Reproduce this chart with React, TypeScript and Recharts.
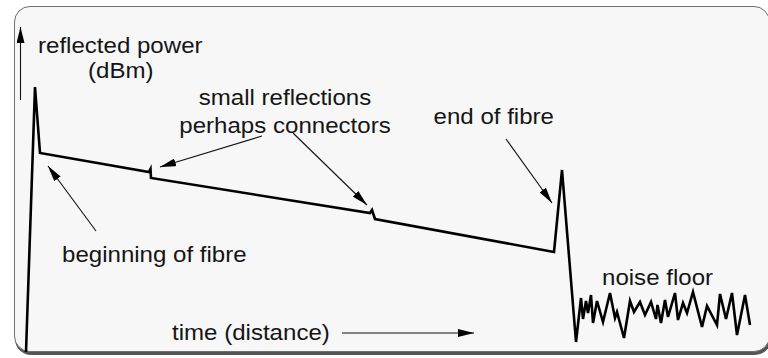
import { Line, LineChart, ReferenceLine, XAxis, YAxis } from "recharts";

// OTDR trace: time (distance) along x, relative reflected power along y
const times = [
  0, 9, 14, 123, 124.5, 125, 344, 346, 349, 528, 536, 550,
  555, 557, 560, 562, 565, 567, 571, 577, 584, 589, 591, 598, 604, 608, 614, 619,
  625, 630, 631.5, 635, 639, 642, 649, 652, 657, 661, 667, 676, 681, 691, 694, 700,
  706, 711, 719, 724,
];
const powers = [
  0, 265, 199, 180, 183, 174, 139, 142, 133, 100, 182, 10,
  54, 33, 51, 39, 57, 29, 51, 30, 59, 34, 40, 14, 51, 40, 50, 37,
  50, 33, 47, 29, 52, 35, 59, 32, 49, 39, 60, 25, 46, 27, 58, 33,
  59, 17, 57, 27,
];

const trace = times.map((t, i) => ({ t, p: powers[i] }));

// annotation arrows, tail -> head, in chart units
const arrowTails = [
  { x: -5.5, y: 252 },
  { x: 70, y: 121 },
  { x: 236, y: 216 },
  { x: 267, y: 219 },
  { x: 480, y: 213 },
  { x: 316, y: 19 },
];
const arrowHeads = [
  { x: -5.5, y: 325 },
  { x: 22, y: 186 },
  { x: 134, y: 185 },
  { x: 341, y: 147 },
  { x: 526, y: 149 },
  { x: 448, y: 19 },
];

const LABELS = [
  { text: "reflected power", x: 38, y: 53, anchor: "start" },
  { text: "(dBm)", x: 88, y: 78, anchor: "start" },
  { text: "small reflections", x: 285, y: 105, anchor: "middle" },
  { text: "perhaps connectors", x: 285, y: 133, anchor: "middle" },
  { text: "end of fibre", x: 554, y: 124, anchor: "end" },
  { text: "beginning of fibre", x: 62, y: 262, anchor: "start" },
  { text: "noise floor", x: 602, y: 285, anchor: "start" },
  { text: "time (distance)", x: 172, y: 340, anchor: "start" },
];

const W = 768;
const H = 358;

function ArrowLine(props: any) {
  return (
    <line
      x1={props.x1}
      y1={props.y1}
      x2={props.x2}
      y2={props.y2}
      stroke="#111"
      strokeWidth={1.1}
      markerEnd="url(#arrowHead)"
    />
  );
}

export default function App() {
  return (
    <div
      style={{
        position: "fixed",
        left: 0,
        top: 0,
        width: W,
        height: H,
        overflow: "hidden",
        background: "#fff",
        fontFamily: '"Liberation Sans", Arial, sans-serif',
      }}
    >
      <svg width="0" height="0" style={{ position: "absolute" }}>
        <defs>
          <marker
            id="arrowHead"
            viewBox="0 0 16 8"
            refX="16"
            refY="4"
            markerWidth="16"
            markerHeight="8"
            markerUnits="userSpaceOnUse"
            orient="auto"
          >
            <path d="M0,0 L16,4 L0,8 z" fill="#000" />
          </marker>
        </defs>
      </svg>
      <div
        style={{
          position: "absolute",
          left: 14,
          top: 6,
          width: 756,
          height: 346,
          boxSizing: "border-box",
          border: "1.5px solid #6f6f6f",
          borderRadius: 16,
          background: "#f7f7f7",
          boxShadow: "1px 3px 0 #555",
        }}
      />
      <div style={{ position: "absolute", left: 0, top: 0 }}>
        <LineChart width={W} height={H} data={trace} margin={{ top: 0, right: 0, bottom: 0, left: 0 }}>
          <XAxis type="number" dataKey="t" domain={[-26, 742]} hide />
          <YAxis type="number" domain={[-6, 352]} hide />
          {arrowTails.map((tail, i) => (
            <ReferenceLine
              key={i}
              segment={[tail, arrowHeads[i]]}
              ifOverflow="visible"
              shape={ArrowLine}
            />
          ))}
          <Line
            dataKey="p"
            type="linear"
            stroke="#000"
            strokeWidth={2.6}
            dot={false}
            activeDot={false}
            isAnimationActive={false}
          />
        </LineChart>
      </div>
      <svg
        width={W}
        height={H}
        style={{ position: "absolute", left: 0, top: 0, pointerEvents: "none" }}
      >
        {LABELS.map((l) => (
          <text
            key={l.text}
            transform={`translate(${l.x},${l.y}) scale(1.12,1)`}
            textAnchor={l.anchor}
            fontSize={21.5}
            fill="#151515"
          >
            {l.text}
          </text>
        ))}
      </svg>
    </div>
  );
}
